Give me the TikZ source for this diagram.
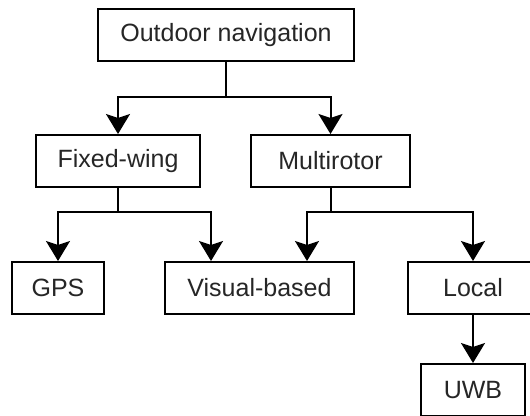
\documentclass[tikz,border=0pt]{standalone}
\usepackage{fontspec}
\setmainfont{Liberation Sans}
\usetikzlibrary{arrows.meta,calc}

\begin{document}
\begin{tikzpicture}[x=1pt,y=-1pt,
  box/.style={draw=black, line width=2pt, fill=white, inner sep=0pt,
    minimum height=52pt, font=\fontsize{25}{30}\selectfont, text=black!85},
  arr/.style={draw=black, line width=2pt,
    -{Stealth[length=20pt,width=24pt,inset=4pt]}},
  link/.style={draw=black, line width=2pt}]
  \useasboundingbox (0,0) rectangle (530,415);

  % tree of boxes
  \node[box, minimum width=256pt] (top) at (226,35) {Outdoor navigation};
  \node[box, minimum width=164pt] (fw)  at (118,161) {Fixed-wing};
  \node[box, minimum width=159pt] (mr)  at (330.5,161) {Multirotor};
  \node[box, minimum width=92pt]  (gps) at (58,288) {GPS};
  \node[box, minimum width=189pt] (vb)  at (259.5,288) {Visual-based};
  \node[box, minimum width=130pt] (loc) at (473,288) {Local};
  \node[box, minimum width=104pt] (uwb) at (473,390) {UWB};

  % junction points of the branching connectors
  \coordinate (j0) at (226,97);
  \coordinate (j1) at (118,212);
  \coordinate (j2) at (330.5,212);

  % first level
  \draw[link] (top.south) -- (j0);
  \draw[arr] (j0) -| (fw.north);
  \draw[arr] (j0) -| (mr.north);

  % fixed-wing branch
  \draw[link] (fw.south) -- (j1);
  \draw[arr] (j1) -| (gps.north);
  \draw[arr] (j1) -| ($(vb.north west)+(47,0)$);

  % multirotor branch
  \draw[link] (mr.south) -- (j2);
  \draw[arr] (j2) -| ($(vb.north east)+(-48,0)$);
  \draw[arr] (j2) -| (loc.north);

  % local to UWB
  \draw[arr] (loc.south) -- (uwb.north);
\end{tikzpicture}
\end{document}
